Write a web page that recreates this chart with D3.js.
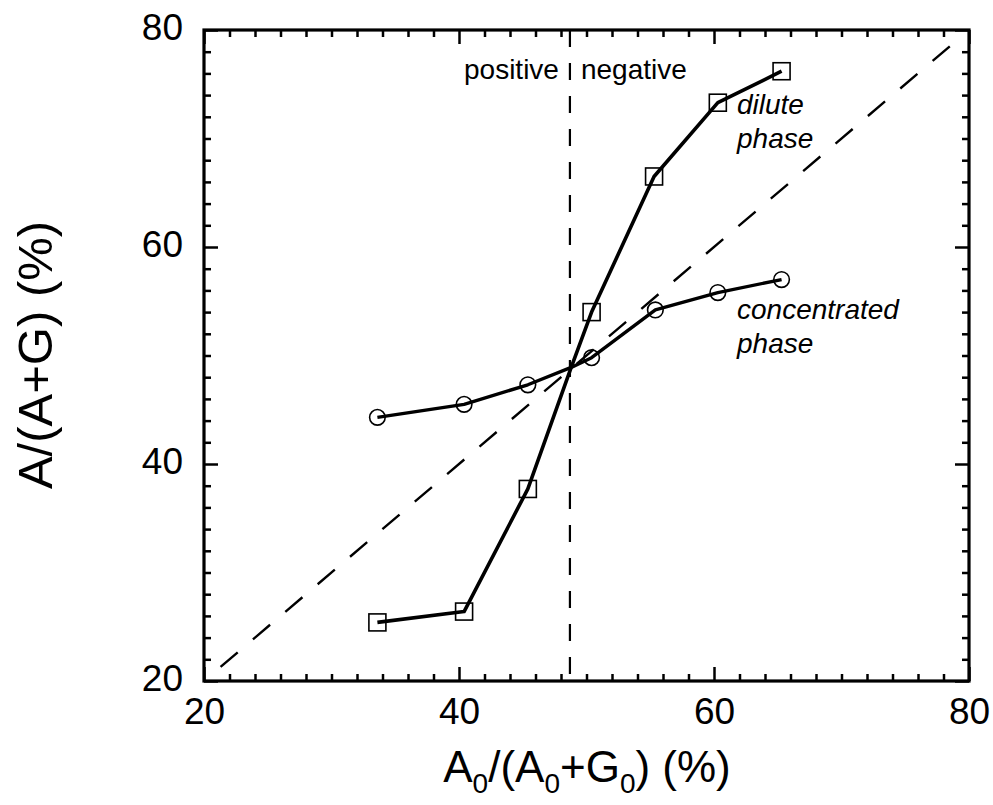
<!DOCTYPE html>
<html>
<head>
<meta charset="utf-8">
<script src="https://cdn.jsdelivr.net/npm/d3@7"></script>
<style>
  html, body { margin: 0; padding: 0; background: #fff; }
  svg { display: block; font-family: "Liberation Sans", Arial, Helvetica, sans-serif; }
</style>
</head>
<body>
<svg id="chart" width="993" height="805"></svg>
<script>
// Dilute phase (squares)
const diluteX = [33.6, 40.4, 45.4, 50.4, 55.3, 60.3, 65.3];
const diluteY = [25.4, 26.4, 37.7, 54.0, 66.5, 73.3, 76.2];
// Concentrated phase (circles)
const concX = [33.6, 40.4, 45.4, 50.4, 55.4, 60.3, 65.3];
const concY = [44.3, 45.5, 47.3, 49.8, 54.2, 55.8, 57.0];
// Point where both curves cross the diagonal
const crossX = 48.8;
const crossY = 48.9;
// Diagonal reference line y = x
const diagX = [21.3, 78.7];
// Divider between positive and negative regions
const dividerX = 48.7;
// Axis ticks
const majorTicks = [20, 40, 60, 80];
const minorTicks = d3.range(20, 81, 2).filter(v => v % 20 !== 0);

const margin = { left: 204, top: 30, right: 24, bottom: 124 };
const W = 993, H = 805;
const iw = W - margin.left - margin.right;   // 765
const ih = H - margin.top - margin.bottom;   // 651

const svg = d3.select("#chart");
const g = svg.append("g").attr("transform", `translate(${margin.left},${margin.top})`);

const x = d3.scaleLinear().domain([20, 80]).range([0, iw]);
const y = d3.scaleLinear().domain([20, 80]).range([ih, 0]);

// ----- axes: ticks pointing inward on all four sides -----
function styleAxis(sel, width) {
  sel.select(".domain").remove();
  sel.selectAll(".tick line").attr("stroke", "#000").attr("stroke-width", width);
}
const tickFont = 37;

// bottom
g.append("g").attr("transform", `translate(0,${ih})`)
  .call(d3.axisBottom(x).tickValues(minorTicks).tickSize(-7).tickFormat(""))
  .call(s => styleAxis(s, 2.5));
g.append("g").attr("transform", `translate(0,${ih})`)
  .call(d3.axisBottom(x).tickValues(majorTicks).tickSize(-14).tickPadding(17).tickFormat(d3.format("d")))
  .call(s => styleAxis(s, 2.5))
  .call(s => s.selectAll("text").attr("font-size", tickFont).attr("fill", "#000")
                .attr("font-family", "Liberation Sans, Arial, sans-serif"));
// top
g.append("g")
  .call(d3.axisTop(x).tickValues(minorTicks).tickSize(-7).tickFormat(""))
  .call(s => styleAxis(s, 2.5));
g.append("g")
  .call(d3.axisTop(x).tickValues(majorTicks).tickSize(-14).tickFormat(""))
  .call(s => styleAxis(s, 2.5));
// left
g.append("g")
  .call(d3.axisLeft(y).tickValues(minorTicks).tickSize(-7).tickFormat(""))
  .call(s => styleAxis(s, 2.5));
g.append("g")
  .call(d3.axisLeft(y).tickValues(majorTicks).tickSize(-14).tickPadding(21).tickFormat(d3.format("d")))
  .call(s => styleAxis(s, 2.5))
  .call(s => s.selectAll("text").attr("font-size", tickFont).attr("fill", "#000")
                .attr("font-family", "Liberation Sans, Arial, sans-serif").attr("dy", "0.25em"));
// right
g.append("g").attr("transform", `translate(${iw},0)`)
  .call(d3.axisRight(y).tickValues(minorTicks).tickSize(-7).tickFormat(""))
  .call(s => styleAxis(s, 2.5));
g.append("g").attr("transform", `translate(${iw},0)`)
  .call(d3.axisRight(y).tickValues(majorTicks).tickSize(-14).tickFormat(""))
  .call(s => styleAxis(s, 2.5));

// frame
g.append("rect")
  .attr("x", 0).attr("y", 0).attr("width", iw).attr("height", ih)
  .attr("fill", "none").attr("stroke", "#000").attr("stroke-width", 3.2);

// ----- reference lines -----
const line = d3.line().x(d => x(d[0])).y(d => y(d[1]));

g.append("path")
  .datum(diagX.map(v => [v, v]))
  .attr("d", line)
  .attr("fill", "none").attr("stroke", "#000").attr("stroke-width", 2.4)
  .attr("stroke-dasharray", "22.5,20");

g.append("line")
  .attr("x1", x(dividerX)).attr("x2", x(dividerX))
  .attr("y1", y(80)).attr("y2", y(20))
  .attr("stroke", "#000").attr("stroke-width", 2.2)
  .attr("stroke-dasharray", "17,16");

// ----- data curves (both pass through the crossing point) -----
function withCross(xs, ys) {
  const pts = xs.map((v, i) => [v, ys[i]]);
  pts.push([crossX, crossY]);
  return pts.sort((a, b) => a[0] - b[0]);
}

g.append("path")
  .datum(withCross(diluteX, diluteY))
  .attr("d", line)
  .attr("fill", "none").attr("stroke", "#000").attr("stroke-width", 3.6)
  .attr("stroke-linejoin", "round");

g.append("path")
  .datum(withCross(concX, concY))
  .attr("d", line)
  .attr("fill", "none").attr("stroke", "#000").attr("stroke-width", 3.4)
  .attr("stroke-linejoin", "round");

// markers
const sq = 17;
g.selectAll("rect.sq")
  .data(diluteX.map((v, i) => [v, diluteY[i]]))
  .join("rect").attr("class", "sq")
  .attr("x", d => x(d[0]) - sq / 2).attr("y", d => y(d[1]) - sq / 2)
  .attr("width", sq).attr("height", sq)
  .attr("fill", "none").attr("stroke", "#000").attr("stroke-width", 1.6);

g.selectAll("circle.ci")
  .data(concX.map((v, i) => [v, concY[i]]))
  .join("circle").attr("class", "ci")
  .attr("cx", d => x(d[0])).attr("cy", d => y(d[1])).attr("r", 7.8)
  .attr("fill", "none").attr("stroke", "#000").attr("stroke-width", 1.6);

// ----- annotations -----
const annFont = 28;
svg.append("text")
  .attr("x", margin.left + x(dividerX) - 11).attr("y", 79)
  .attr("text-anchor", "end").attr("font-size", annFont).text("positive");
svg.append("text")
  .attr("x", margin.left + x(dividerX) + 11).attr("y", 79)
  .attr("font-size", annFont).text("negative");

function italicBlock(lines, px, py) {
  const t = svg.append("text").attr("font-size", annFont).attr("font-style", "italic");
  lines.forEach((s, i) => {
    t.append("tspan").attr("x", px).attr("y", py + i * 34).text(s);
  });
}
italicBlock(["dilute", "phase"], 737, 114);
italicBlock(["concentrated", "phase"], 737, 319);

// ----- axis titles -----
const xt = svg.append("text")
  .attr("x", 587).attr("y", 782)
  .attr("text-anchor", "middle").attr("font-size", 44);
const parts = [["A", false], ["0", true], ["/(A", false], ["0", true], ["+G", false], ["0", true], [") (%)", false]];
parts.forEach(([s, sub], i) => {
  const ts = xt.append("tspan").text(s);
  if (sub) ts.attr("font-size", 28).attr("dy", 11);
  else if (i > 0) ts.attr("dy", -11);
});

svg.append("text")
  .attr("transform", "translate(52,355) rotate(-90)")
  .attr("text-anchor", "middle").attr("font-size", 49)
  .text("A/(A+G) (%)");
</script>
</body>
</html>
